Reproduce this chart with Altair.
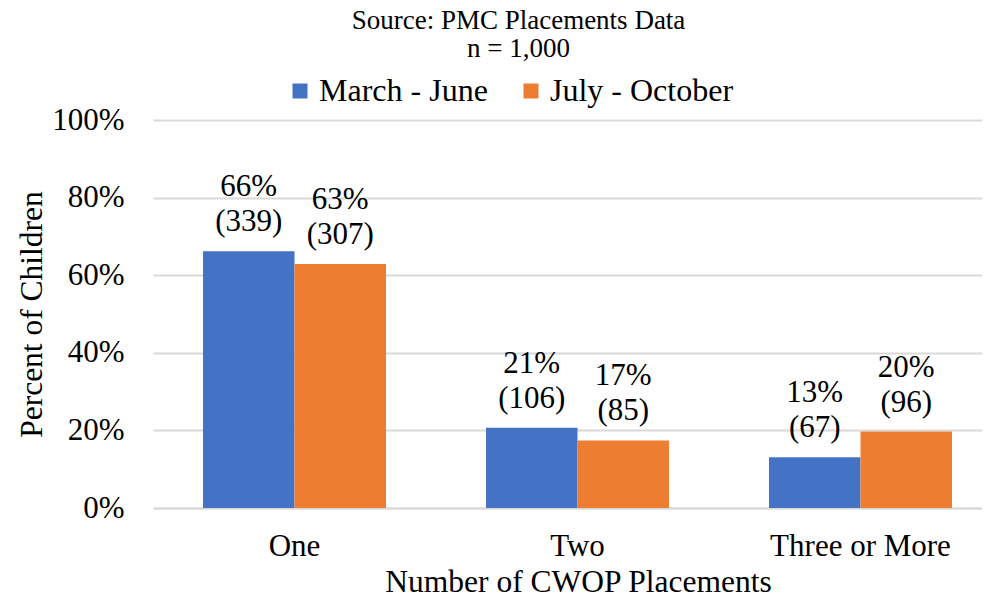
import altair as alt
import pandas as pd

categories = ["One", "Two", "Three or More"]
series = ["March - June", "July - October"]
march_pct = [0.662, 0.207, 0.131]
july_pct = [0.629, 0.174, 0.197]
march_n = [339, 106, 67]
july_n = [307, 85, 96]
march_lbl = ["66%", "21%", "13%"]
july_lbl = ["63%", "17%", "20%"]
colors = ["#4472C4", "#ED7D31"]

rows = []
for i, c in enumerate(categories):
    rows.append(dict(cat=c, series=series[0], pct=march_pct[i],
                     label=f"{march_lbl[i]}\n({march_n[i]})"))
    rows.append(dict(cat=c, series=series[1], pct=july_pct[i],
                     label=f"{july_lbl[i]}\n({july_n[i]})"))
df = pd.DataFrame(rows)

FONT = "Liberation Serif"

x = alt.X(
    "cat:N", sort=categories,
    scale=alt.Scale(paddingInner=0.3534, paddingOuter=0.1414, align=0.625, round=False),
    axis=alt.Axis(
        title="Number of CWOP Placements", labelAngle=0, ticks=False, tickSize=0,
        domain=True, domainColor="#D9D9D9", domainWidth=2,
        labelPadding=38, labelBaseline="middle", labelFontSize=31, labelColor="black",
        labelLimit=0,
        titleFontSize=31.5, titleX=425, titleY=74, titleBaseline="middle",
        titleFontWeight="normal", titleColor="black", grid=False,
        labelFont=FONT, titleFont=FONT,
    ),
)
xo = alt.XOffset("series:N", sort=series, scale=alt.Scale(paddingInner=0, paddingOuter=0, round=False))
y = alt.Y(
    "pct:Q", scale=alt.Scale(domain=[0, 1], nice=False),
    axis=alt.Axis(
        values=[0, 0.2, 0.4, 0.6, 0.8, 1.0], format=".0%",
        title="Percent of Children", ticks=False, tickSize=0, domain=False,
        grid=True, gridColor="#D9D9D9", gridWidth=2,
        labelPadding=29, labelFontSize=31, labelColor="black", labelFont=FONT,
        titleFontSize=31.5, titleFont=FONT, titleFontWeight="normal", titleColor="black",
        titleAngle=-90, titleX=-121, titleY=194, titleBaseline="middle", titleAlign="center",
    ),
)
color = alt.Color(
    "series:N", sort=series,
    scale=alt.Scale(domain=series, range=colors),
    legend=alt.Legend(
        title=None, orient="none", legendX=131, legendY=-45, direction="horizontal",
        symbolType="square", symbolSize=225, symbolStrokeWidth=0, symbolOpacity=1,
        labelFontSize=32, labelFont=FONT, labelColor="black", labelOffset=3,
        labelLimit=0, columnPadding=27, padding=0,
    ),
)

bars = alt.Chart(df).mark_bar(stroke=None).encode(x=x, xOffset=xo, y=y, color=color)
labels = alt.Chart(df).mark_text(
    baseline="bottom", align="center", dy=-48, fontSize=31, font=FONT,
    lineBreak="\n", lineHeight=35, color="black",
).encode(x=alt.X("cat:N", sort=categories), xOffset=alt.XOffset("series:N", sort=series), y="pct:Q", text="label:N")

chart = (
    alt.layer(bars, labels)
    .properties(
        width=829, height=388,
        padding={"left": 145, "top": 112, "right": 0, "bottom": 84},
        autosize=alt.AutoSizeParams(type="none"),
        title=alt.TitleParams(
            ["Source: PMC Placements Data", "n = 1,000"], fontSize=27, font=FONT,
            fontWeight="normal", anchor="middle", dx=-49, lineHeight=28, offset=12,
            color="black",
        ),
    )
    .configure(font=FONT)
    .configure_view(stroke=None)
)

chart.save("out.html", embed_options={"renderer": "svg", "actions": False})
